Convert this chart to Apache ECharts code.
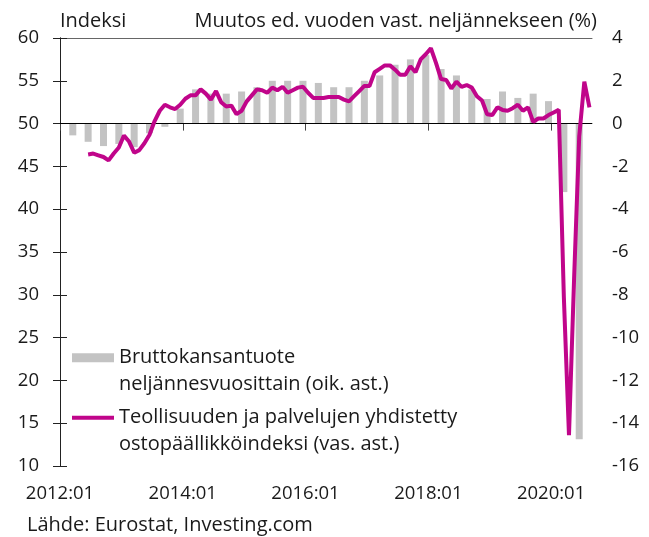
<!DOCTYPE html>
<html>
<head>
<meta charset="utf-8">
<script src="https://cdn.jsdelivr.net/npm/echarts@6/dist/echarts.min.js"></script>
<style>
html,body{margin:0;padding:0;background:#fff}
#chart{width:649px;height:537px}
</style>
</head>
<body>
<div id="chart"></div>
<script>
var startYear = 2012;
var xTicks = [0, 24, 48, 72, 96];   // kuukausia alusta 2012:01

// BKT, muutos ed. vuoden vast. neljännekseen, 2012Q1 - 2020Q2
var gdpValues = [
	-0.55, -0.85, -1.05, -0.95,
	-1.1, -0.45, -0.15, 0.7,
	1.6, 1.4, 1.4, 1.5,
	1.7, 2.0, 2.0, 2.0,
	1.9, 1.7, 1.7, 2.0,
	2.25, 2.75, 3.0, 3.2,
	2.55, 2.25, 1.6, 1.15,
	1.5, 1.2, 1.4, 1.05,
	-3.2, -14.75
];

// ostopäällikköindeksi, 2012:06 - 2020:08
var pmiStart = 5;
var pmiValues = [
	46.4, 46.5, 46.3, 46.1, 45.7, 46.5, 47.2,
	48.6, 47.9, 46.6, 46.9, 47.7, 48.7, 50.3, 51.5, 52.2, 51.9, 51.7, 52.2,
	52.9, 53.3, 53.3, 54.0, 53.5, 52.8, 53.8, 52.5, 52.0, 52.1, 51.1, 51.5,
	52.6, 53.3, 54.0, 53.9, 53.6, 54.2, 53.9, 54.3, 53.6, 53.9, 54.2, 54.3,
	53.6, 53.0, 53.0, 53.0, 53.1, 53.1, 53.1, 52.8, 52.6, 53.2, 53.8, 54.4,
	54.4, 56.0, 56.4, 56.8, 56.8, 56.3, 55.7, 55.7, 56.7, 56.0, 57.5, 58.1,
	58.8, 57.1, 55.2, 55.1, 54.1, 54.9, 54.3, 54.5, 54.2, 53.2, 52.7, 51.1,
	51.0, 51.9, 51.6, 51.5, 51.8, 52.2, 51.5, 51.9, 50.2, 50.6, 50.6, 51.0,
	51.3, 51.6, 29.7, 13.6, 31.9, 48.5, 54.9, 51.9
];

var gdpName = 'Bruttokansantuote\nneljännesvuosittain (oik. ast.)';
var pmiName = 'Teollisuuden ja palvelujen yhdistetty\nostopäällikköindeksi (vas. ast.)';

var gdpData = gdpValues.map(function (v, k) { return [3 * k + 2.5, v]; });
var pmiData = pmiValues.map(function (v, i) { return [pmiStart + i + 0.5, v]; });

var font = 'Open Sans';
var fs = 20;       // otsikot, selite
var axFs = 18.5;   // akselien luvut
var txt = '#1a1a1a';

function legendAt(name, top, h) {
	return {
		data: [{ name: name, icon: 'rect' }],
		orient: 'vertical',
		left: 72,
		top: top,
		padding: 0,
		itemWidth: 42,
		itemHeight: h,
		selectedMode: false,
		formatter: function (n) { return '\n' + n; },
		textStyle: { fontFamily: font, fontSize: fs, lineHeight: 26.5, color: txt }
	};
}

var myChart = echarts.init(document.getElementById('chart'));
var option = {
	animation: false,
	textStyle: { fontFamily: font },
	title: [
		{ text: 'Indeksi', left: 60, top: 11, padding: 0,
		  textStyle: { fontFamily: font, fontSize: fs, fontWeight: 'normal', color: txt } },
		{ text: 'Muutos ed. vuoden vast. neljännekseen (%)', right: 52, top: 11, padding: 0,
		  textStyle: { fontFamily: font, fontSize: fs, fontWeight: 'normal', color: txt } },
		{ text: 'Lähde: Eurostat, Investing.com', left: 27, top: 515, padding: 0,
		  textStyle: { fontFamily: font, fontSize: fs, fontWeight: 'normal', color: txt } }
	],
	legend: [legendAt(gdpName, 318, 9), legendAt(pmiName, 378, 4)],
	grid: { left: 60, right: 57, top: 38, bottom: 71 },
	xAxis: [
		{
			type: 'value',
			min: 0,
			max: 104,
			axisLine: { show: true, lineStyle: { color: '#444', width: 1 } },
			axisTick: { show: true, customValues: xTicks, length: 7, lineStyle: { color: '#444' } },
			axisLabel: {
				customValues: xTicks,
				margin: 18,
				fontSize: axFs,
				color: txt,
				formatter: function (v) { return (startYear + Math.round(v / 12)) + ':01'; }
			},
			splitLine: { show: false }
		},
		{
			type: 'value',
			position: 'top',
			min: 0,
			max: 104,
			axisLine: { show: true, lineStyle: { color: '#666', width: 1 } },
			axisTick: { show: false },
			axisLabel: { show: false },
			splitLine: { show: false }
		}
	],
	yAxis: [
		{
			type: 'value',
			position: 'left',
			min: 10,
			max: 60,
			interval: 5,
			axisLine: { show: true, lineStyle: { color: '#222', width: 1 } },
			axisTick: { show: true, length: 7, lineStyle: { color: '#222' } },
			axisLabel: { margin: 21, fontSize: axFs, color: txt },
			splitLine: { show: false }
		},
		{
			type: 'value',
			position: 'right',
			min: -16,
			max: 4,
			interval: 2,
			axisLine: { show: true, lineStyle: { color: '#222', width: 1 } },
			axisTick: { show: true, length: 7, lineStyle: { color: '#222' } },
			axisLabel: { margin: 20, fontSize: axFs, color: txt },
			splitLine: { show: false }
		}
	],
	series: [
		{
			name: gdpName,
			type: 'bar',
			yAxisIndex: 1,
			barWidth: 7,
			itemStyle: { color: '#c3c3c3' },
			data: gdpData,
			markLine: {
				silent: true,
				symbol: 'none',
				label: { show: false },
				lineStyle: { color: '#000', width: 1, type: 'solid' },
				data: [{ yAxis: 0 }]
			}
		},
		{
			name: pmiName,
			type: 'line',
			yAxisIndex: 0,
			symbol: 'none',
			z: 5,
			lineStyle: { color: '#c0058a', width: 4 },
			itemStyle: { color: '#c0058a' },
			data: pmiData
		}
	]
};
myChart.setOption(option);
</script>
</body>
</html>
